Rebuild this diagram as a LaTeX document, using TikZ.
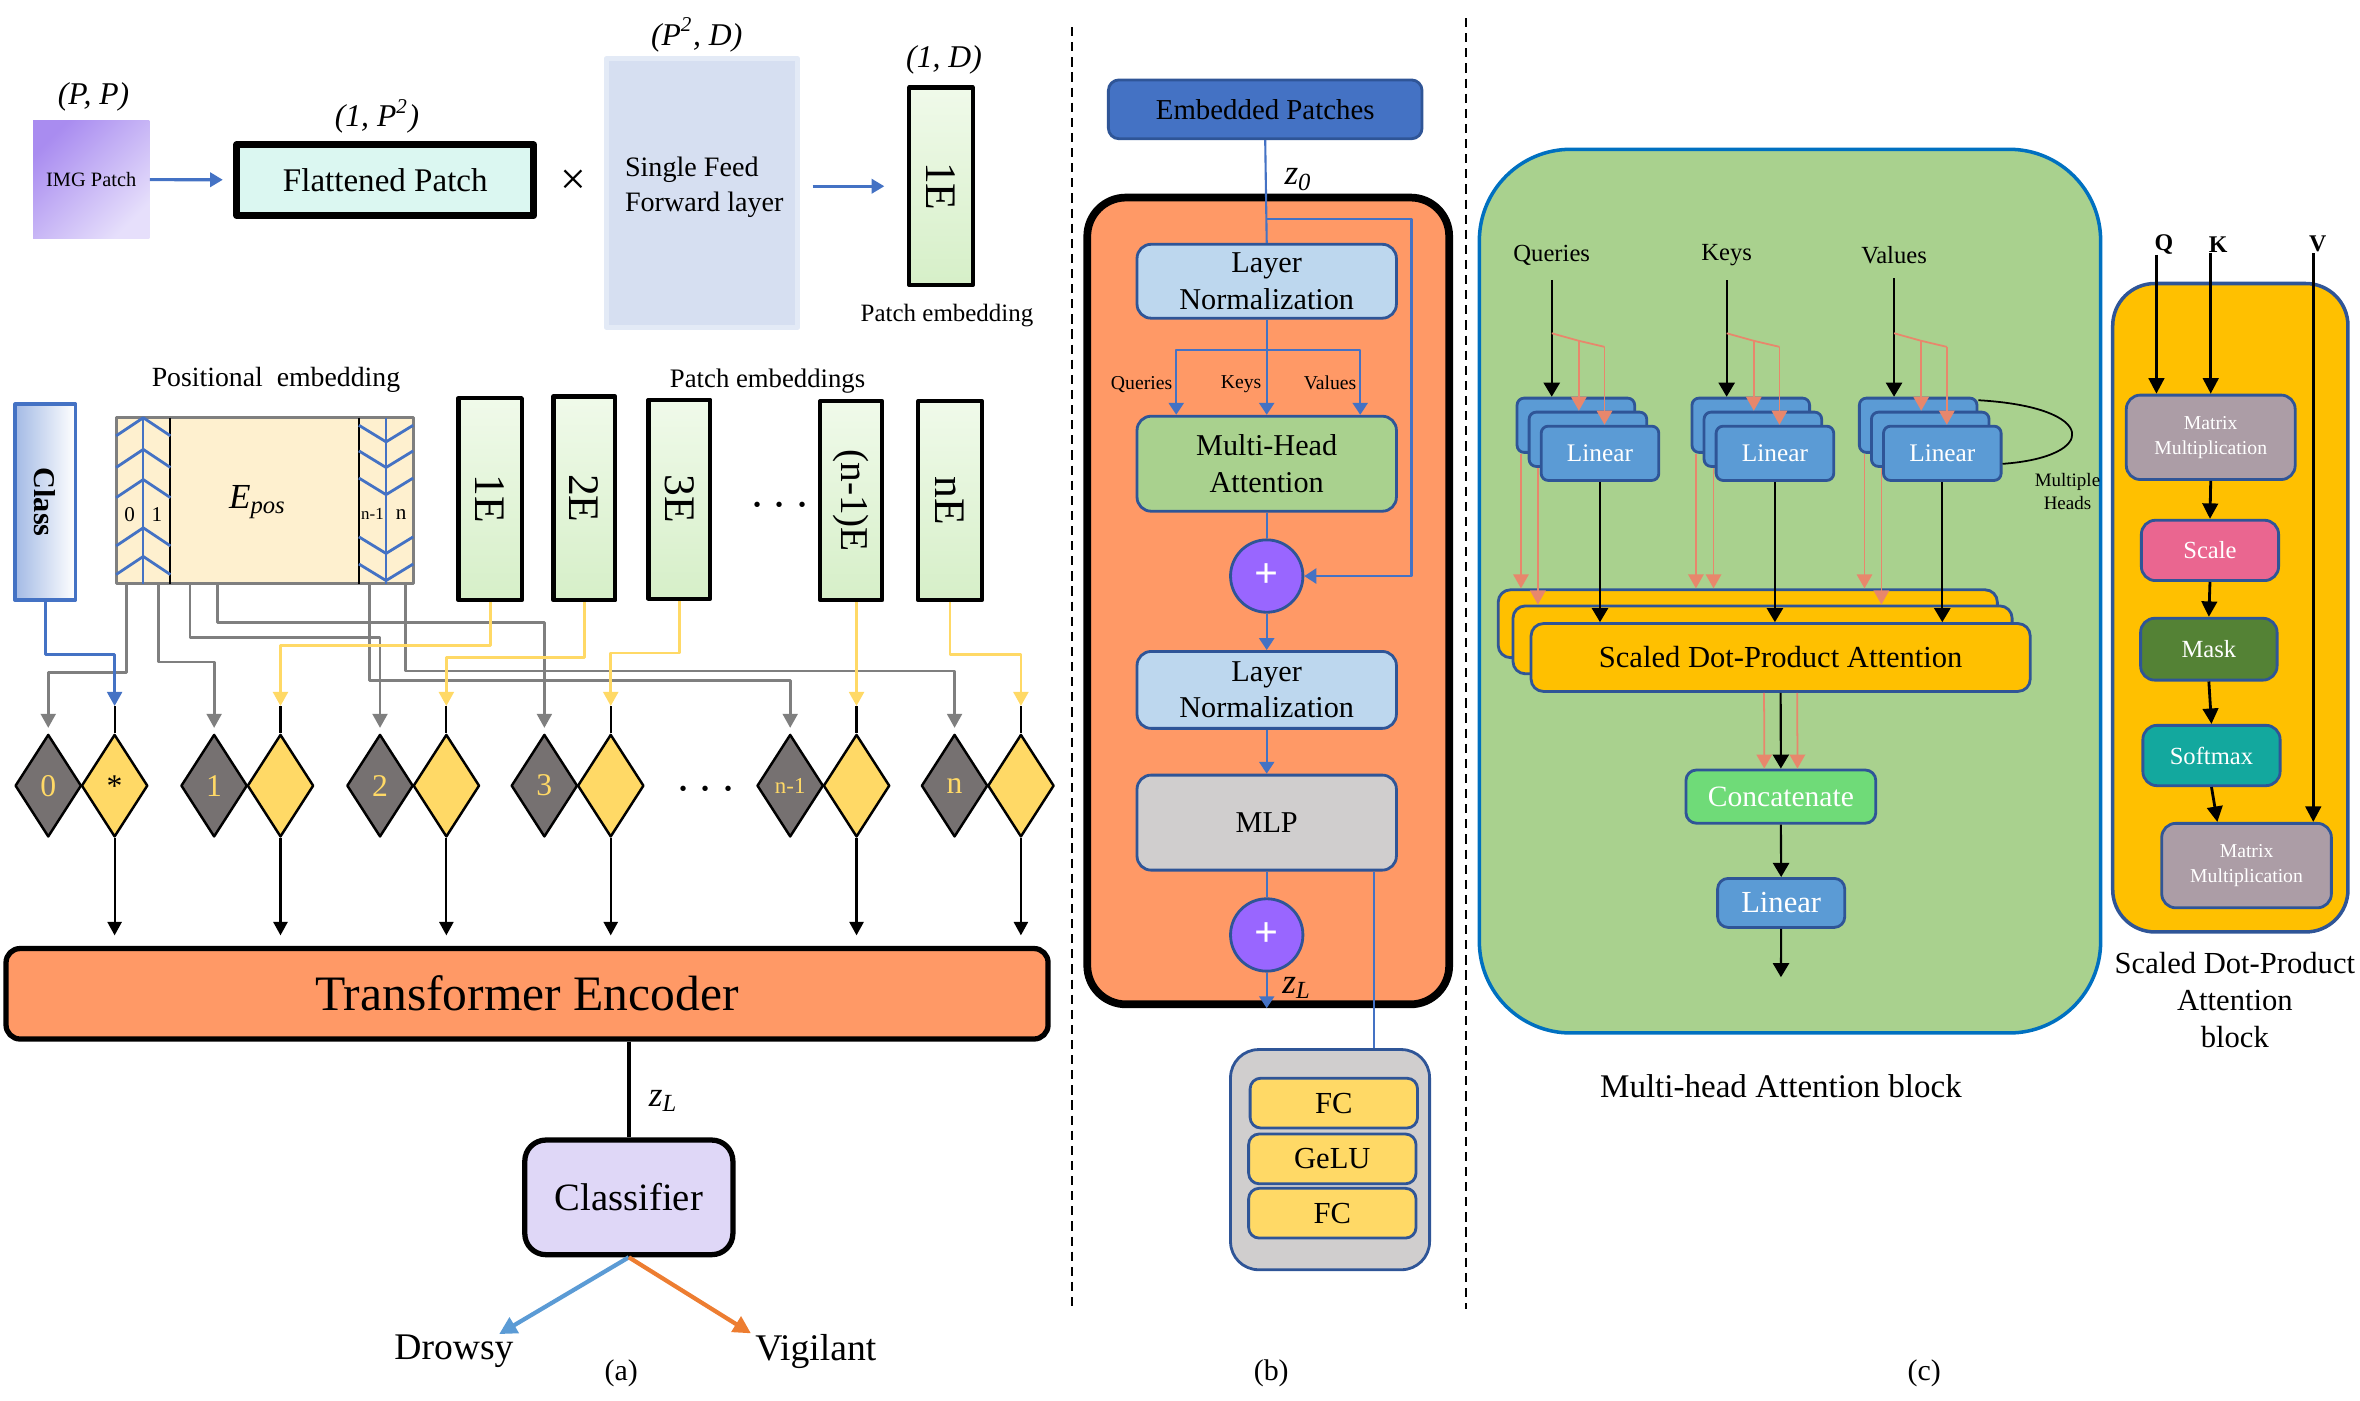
\documentclass[tikz,border=0pt]{standalone}
\usepackage{fontspec}
\setmainfont{Liberation Serif}
\usetikzlibrary{arrows.meta,shapes.geometric,calc,positioning}

\newcommand\upx{0.01508cm}
\newcommand\fsz[2]{\fontsize{#1pt}{#2pt}\selectfont}

\definecolor{pblue}{HTML}{4472C4}
\definecolor{dblue}{HTML}{2F5597}
\definecolor{cblue}{HTML}{0070C0}
\definecolor{lblue}{HTML}{5B9BD5}
\definecolor{tred}{HTML}{FF9966}
\definecolor{ylw}{HTML}{FFD966}
\definecolor{dgray}{HTML}{767171}
\definecolor{wgray}{HTML}{7F7F7F}
\definecolor{flatc}{HTML}{DBF7F1}
\definecolor{feedc}{HTML}{D6DFF1}
\definecolor{feedb}{HTML}{E3EAF6}
\definecolor{eposc}{HTML}{FEF0CF}
\definecolor{egA}{HTML}{F0FAEA}
\definecolor{egB}{HTML}{D6EFC8}
\definecolor{lav}{HTML}{DFD7F7}
\definecolor{imgA}{HTML}{A98CF0}
\definecolor{imgB}{HTML}{E6DFFB}
\definecolor{clsA}{HTML}{A3BAE5}
\definecolor{lnc}{HTML}{BDD7EE}
\definecolor{mhac}{HTML}{A9D18E}
\definecolor{mlpc}{HTML}{D0CECE}
\definecolor{plusc}{HTML}{9966FF}
\definecolor{sdpac}{HTML}{FFC000}
\definecolor{catc}{HTML}{6FDB78}
\definecolor{salm}{HTML}{E8876C}
\definecolor{mmc}{HTML}{AC9DA6}
\definecolor{scalec}{HTML}{EA6690}
\definecolor{maskc}{HTML}{548235}
\definecolor{softc}{HTML}{13A89E}
\definecolor{drowc}{HTML}{5B9BD5}
\definecolor{vigc}{HTML}{ED7D31}

\tikzset{
  every node/.style={inner sep=0pt},
  area/.style args={#1/#2/#3/#4}{at={({(#1+#3)/2},{(#2+#4)/2})}, minimum width=(#3-#1)*\upx, minimum height=(#4-#2)*\upx},
  tipA/.style={-{Triangle[width=4.2pt,length=4pt]}},
  gwire/.style={wgray, line width=0.8pt, tipA, shorten >=1.5pt},
  ywire/.style={ylw, line width=0.8pt, tipA},
  downarr/.style={line width=0.6pt, -{Triangle[width=4pt,length=3.8pt]}, shorten >=3pt},
  gdia/.style={diamond, draw, line width=0.7pt, fill=dgray, text=ylw, minimum width=44*\upx, minimum height=68*\upx, font=\fsz{9}{10}},
  ydia/.style={gdia, fill=ylw, text=black},
  ebox/.style={draw, line width=1.2pt, top color=egA, bottom color=egB},
  bbox/.style={draw=dblue, line width=0.8pt, rounded corners=4pt, align=center, font=\fsz{8.6}{10.3}},
  barr/.style={pblue, line width=0.6pt, -{Triangle[width=4.3pt,length=3.4pt]}},
  fcbox/.style={draw=dblue, line width=0.8pt, fill=ylw, rounded corners=3pt, font=\fsz{8.7}{10}},
  linbox/.style={draw=dblue, line width=0.8pt, fill=lblue, rounded corners=2pt, minimum width=78*\upx, minimum height=36*\upx, text=white, font=\fsz{7.2}{8}},
  sdpabox/.style={draw=dblue, line width=0.8pt, fill=sdpac, rounded corners=3.5pt, minimum width=331*\upx, minimum height=45*\upx, font=\fsz{8.7}{10}},
  blk/.style={line width=0.6pt, -{Triangle[width=4.6pt,length=4pt]}},
  salmarr/.style={salm, line width=0.5pt, -{Triangle[width=4.4pt,length=4pt]}},
  opbox/.style={draw=dblue, line width=0.8pt, rounded corners=4pt, text=white, align=center, font=\fsz{7}{8}},
  oparr/.style={line width=0.8pt, -{Triangle[width=4.4pt,length=4.4pt]}},
}

\begin{document}
\begin{tikzpicture}[x=\upx,y=-\upx,line join=round]
\useasboundingbox (0,0) rectangle (1565,928.4);

% (a) patch embedding
\node[font=\itshape\fsz{9}{10}] at (62,64) {(P, P)};
\node[area=22/80/99/158, top color=imgA, bottom color=imgB, shading angle=45, font=\fsz{5.8}{6}] (img) {IMG Patch};
\node[font=\itshape\fsz{9}{10}] at (250,77) {(1, P\textsuperscript{2})};
\node[area=157/96/354/143, draw, line width=1.9pt, fill=flatc, font=\fsz{9.4}{11}] (flat) {Flattened Patch};
\node[font=\fsz{13}{13}] (times) at (380,121) {×};
\node[area=402/39/529/217, draw=feedb, line width=1.4pt, fill=feedc] (ffl) {};
\node[anchor=west, align=left, font=\fsz{8}{9.9}] at (414,124) {Single Feed\\Forward layer};
\node[font=\itshape\fsz{9}{10}] at (462,23) {(P\textsuperscript{2}, D)};
\node[font=\itshape\fsz{9}{10}] at (626,40) {(1, D)};
\node[ebox, area=603/58/645/189] (pe) {};
\node[rotate=-90, font=\fsz{12.4}{13}] at (pe) {1E};
\node[font=\fsz{7.1}{8}] at (628,209) {Patch embedding};
\draw[pblue, line width=0.9pt, -{Triangle[width=4pt,length=3.6pt]}, shorten >=3pt] (img) -- (flat);
\draw[pblue, line width=0.9pt, -{Triangle[width=4pt,length=3.6pt]}, shorten <=3.5pt, shorten >=6.5pt] (ffl.east |- pe) -- (pe.west);

% (a) embeddings
\node[font=\fsz{7.9}{9}] at (183,252) {Positional\ \ embedding};
\node[font=\fsz{7.6}{9}] at (509,253) {Patch embeddings};
\node[area=10/268/50/398, draw=pblue, line width=1pt, left color=clsA, right color=white] (cls) {};
\node[rotate=-90, font=\bfseries\fsz{8.6}{9}] at (cls) {Class};
\node[area=77/277/274/387, draw=wgray, line width=0.8pt, fill=eposc] (epos) {};
\draw[line width=0.6pt] (113,277) -- (113,387) (238,277) -- (238,387);
\draw[pblue, line width=0.5pt] (95,277) -- (95,387) (256,277) -- (256,387);
\foreach \y in {277,298,318,350,369}
  \draw[pblue, line width=0.8pt] (77,\y+12) -- (95,\y) -- (113,\y+12);
\foreach \y in {293,310,328,367,385}
  \draw[pblue, line width=0.8pt] (238,\y-11) -- (256,\y) -- (274,\y-11);
\node[font=\fsz{6}{6}] at (86,341) {0};
\node[font=\fsz{6}{6}] at (104,341) {1};
\node[font=\fsz{4.8}{5}] at (247,341) {n-1};
\node[font=\fsz{6}{6}] at (266,341) {n};
\node[font=\fsz{10}{12}] at (171,333) {\textit{E}\textsubscript{\textit{pos}}};
\foreach \nm/\xa/\ya/\xb/\yb/\txt in {e1/304/264/346/398/1E, e2/367/263/408/398/2E, e3/430/265/471/397/3E, en/609/266/651/398/nE} {
  \node[ebox, area=\xa/\ya/\xb/\yb] (\nm) {};
  \node[rotate=-90, font=\fsz{12.4}{13}] at (\nm) {\txt};
}
\node[ebox, area=544/266/585/398] (en1) {};
\node[rotate=-90, font=\fsz{11.2}{12}] at (en1) {(n-1)E};
\node[font=\fsz{15}{15}] at (517,336) {$\cdots$};

% (a) diamonds
\foreach \nm/\xx/\lab/\ylab in {0/32/0/*, 1/142/1/{}, 2/252/2/{}, 3/361/3/{}, n1/524/{\fsz{6.5}{7}n-1}/{}, n/633/n/{}} {
  \node[gdia] (g\nm) at (\xx,521) {\lab};
  \node[ydia] (y\nm) at (\xx+44,521) {\ylab};
}
\node[font=\fsz{15}{15}] at (468,524) {$\cdots$};
\foreach \nm/\xx/\yy in {0/84/446, 1/105/439, 2/126/423, 3/144/413, n1/245/451, n/269/445}
  \draw[gwire] (\xx,0 |- epos.south) -- (\xx,\yy) -| (g\nm.north);
\foreach \src/\dst/\yy in {e1/1/428, e2/2/436, e3/3/433, en/n/434}
  \draw[ywire] (\src.south) -- (\src.south |- 0,\yy) -| ($(y\dst.north)+(0,-18)$);
\draw[ywire] (yn1 |- en1.south) -- ($(yn1.north)+(0,-18)$);
\draw[pblue, line width=0.8pt, tipA] (cls.south) -- (cls.south |- 0,434) -| ($(y0.north)+(0,-18)$);
\node[area=4/629/695/689, draw, line width=1.5pt, rounded corners=4pt, fill=tred, font=\fsz{14.1}{16}] (te) {Transformer Encoder};
\foreach \nm in {0,1,2,3,n1,n} {
  \draw[line width=0.6pt] ($(y\nm.north)+(0,-18)$) -- (y\nm.north);
  \draw[downarr] (y\nm.south) -- (y\nm.south |- te.north);
}

% (a) classifier
\node[area=348/756/486/832, draw, line width=1.5pt, rounded corners=6pt, fill=lav, font=\fsz{11}{12}] (clf) {Classifier};
\draw[line width=1pt] (clf.north |- te.south) -- (clf.north);
\node[font=\fsz{10}{11}] at (440,730) {\textit{z}\textsubscript{\textit{L}}};
\node[font=\fsz{10.7}{12}] (drowsy) at (301,896) {Drowsy};
\node[font=\fsz{10.7}{12}] (vigil) at (541,896) {Vigilant};
\draw[drowc, line width=1.2pt, -{Triangle[width=5pt,length=5pt]}] (clf.south) -- ($(drowsy.north)+(30,0)$);
\draw[vigc, line width=1.2pt, -{Triangle[width=5pt,length=5pt]}] (clf.south) -- ($(vigil.north)+(-43,0)$);
\node[font=\fsz{8.5}{9}] at (412,911) {(a)};

\draw[dashed, dash pattern=on 2.6pt off 1.7pt, line width=0.6pt] (711,18) -- (711,866);
\draw[dashed, dash pattern=on 2.6pt off 1.7pt, line width=0.6pt] (972,12) -- (972,868);

% (b) encoder block
\node[area=721/131/961/666, draw, line width=2.2pt, rounded corners=11pt, fill=tred] (tblk) {};
\node[area=735/53/943/92, draw=dblue, line width=0.8pt, rounded corners=3pt, fill=pblue, font=\fsz{8.2}{10}] (emb) {Embedded Patches};
\node[bbox, fill=lnc, area=754/162/926/211] (ln1) {Layer\\Normalization};
\node[bbox, fill=mhac, area=754/276/926/339] (mha) {Multi-Head\\Attention};
\node[circle, draw=dblue, line width=0.8pt, fill=plusc, minimum size=48*\upx, text=white, font=\bfseries\fsz{12}{12}] (add1) at (840,382) {+};
\node[bbox, fill=lnc, area=754/432/926/483] (ln2) {Layer\\Normalization};
\node[bbox, fill=mlpc, area=754/514/926/577] (mlp) {MLP};
\node[circle, draw=dblue, line width=0.8pt, fill=plusc, minimum size=48*\upx, text=white, font=\bfseries\fsz{12}{12}] (add2) at (840,620) {+};
\node[area=816/696/948/842, draw=dblue, line width=0.8pt, rounded corners=8pt, fill=mlpc] (fcc) {};
\node[fcbox, area=829/715/940/748] (fc1) {FC};
\node[fcbox, area=828/752/939/785] (gelu) {GeLU};
\node[fcbox, area=828/788/939/821] (fc2) {FC};
\draw[pblue, line width=0.6pt] (emb.south) -- (ln1.north);
\node[font=\fsz{10}{11}] at (861,119) {\textit{z}\textsubscript{\textit{0}}};
\draw[barr] (ln1.north |- 0,145) -- (936,145) |- (add1.east);
\draw[barr] (ln1.south) -- (mha.north);
\draw[barr] (ln1.south |- 0,232) -| ($(mha.north)+(-60,0)$);
\draw[barr] (ln1.south |- 0,232) -| ($(mha.north)+(62,0)$);
\node[font=\fsz{5.6}{6}] at (757,255) {Queries};
\node[font=\fsz{5.6}{6}] at (823,255) {Keys};
\node[font=\fsz{5.6}{6}] at (882,254) {Values};
\draw[pblue, line width=0.6pt] (mha.south) -- (add1.north);
\draw[barr] (add1.south) -- (ln2.north);
\draw[barr] (ln2.south) -- (mlp.north);
\draw[pblue, line width=0.6pt] (mlp.south) -- (add2.north);
\draw[barr] (add2.south) -- (add2.south |- tblk.south);
\node[font=\fsz{10}{11}] at (860,655) {\textit{z}\textsubscript{\textit{L}}};
\draw[pblue, line width=0.5pt] (911,0 |- mlp.south) -- (911,0 |- fcc.north);
\node[font=\fsz{8.5}{9}] at (843,911) {(b)};

% (c) multi-head attention
\node[area=981/99/1393/685, draw=cblue, line width=1pt, rounded corners=26pt, fill=mhac] (mhblk) {};
\node[font=\fsz{7}{8}] (lq) at (1029,169) {Queries};
\node[font=\fsz{7}{8}] (lk) at (1145,169) {Keys};
\node[font=\fsz{7}{8}] (lv) at (1256,169) {Values};
\foreach \nm/\bx in {q/1006, k/1122, v/1233} {
  \node[linbox] (\nm0) at (\bx+39,282) {};
  \node[linbox] (\nm1) at (\bx+47,291.3) {};
  \node[linbox] (\nm2) at (\bx+55,300.6) {Linear};
}
\node[sdpabox] (s0) at (1159,413.6) {};
\node[sdpabox] (s1) at (1168.8,424.3) {};
\node[sdpabox] (s2) at (1180.8,436) {Scaled Dot-Product Attention};
\foreach \nm/\ax in {q/1029, k/1145, v/1256} {
  \draw[blk, shorten <=4pt] (l\nm.south) -- (l\nm.south |- \nm0.north);
  \draw[salm, line width=0.5pt] (\ax,221) -- (\ax+18,226) -- (\ax+35,230);
  \draw[salmarr] (\ax+18,226) -- (\ax+18,0 |- \nm1.north);
  \draw[salmarr] (\ax+35,230) -- (\ax+35,0 |- \nm2.north);
  \draw[blk] (\nm2.south) -- (\nm2.south |- s2.north);
}
\draw[salmarr] (1008.6,0 |- q0.south) -- (1008.6,0 |- s0.north);
\draw[salmarr] (1019.8,0 |- q1.south) -- (1019.8,0 |- s1.north);
\draw[salmarr] (1124.6,0 |- k0.south) -- (1124.6,0 |- s0.north);
\draw[salmarr] (1136.3,0 |- k1.south) -- (1136.3,0 |- s0.north);
\draw[salmarr] (1236.4,0 |- v0.south) -- (1236.4,0 |- s0.north);
\draw[salmarr] (1247.6,0 |- v1.south) -- (1247.6,0 |- s1.north);
\draw[line width=0.5pt] ([yshift=-1pt]v0.north east) .. controls (1392,270) and (1392,303) .. ([yshift=-3pt]v2.east);
\node[align=center, font=\fsz{5.4}{6.6}] at (1371,326) {Multiple\\Heads};
\node[area=1118/510.6/1243.9/545.9, draw=dblue, line width=0.8pt, rounded corners=3pt, fill=catc, text=white, font=\fsz{8.4}{9}] (cat) {Concatenate};
\node[area=1139/582.5/1223.3/615, draw=dblue, line width=0.8pt, rounded corners=3pt, fill=lblue, text=white, font=\fsz{8.7}{9}] (lin) {Linear};
\coordinate (mhout) at (1181,648);
\draw[blk] (s2.south) -- (cat.north);
\draw[salmarr] ($(s2.south)+(-11,0)$) -- ($(cat.north)+(-11,0)$);
\draw[salmarr] ($(s2.south)+(11,0)$) -- ($(cat.north)+(11,0)$);
\draw[blk] (cat.south) -- (lin.north);
\draw[blk] (lin.south) -- (mhout);
\node[font=\fsz{9.4}{10}] at (1181,720) {Multi-head Attention block};
\node[font=\fsz{8.5}{9}] at (1276,911) {(c)};

% (c) scaled dot-product attention
\node[area=1401/188/1557/618, draw=dblue, line width=1pt, rounded corners=12pt, fill=sdpac] (sdblk) {};
\node[opbox, fill=mmc, area=1410/262/1522/318, font=\fsz{5.6}{7}] (mm1) {Matrix\\Multiplication};
\node[opbox, fill=scalec, area=1420/345/1511/385] (scl) {Scale};
\node[opbox, fill=maskc, area=1419.5/410/1510/451] (msk) {Mask};
\node[opbox, fill=softc, area=1421/481/1512/521] (smx) {Softmax};
\node[opbox, fill=mmc, area=1433.5/546/1546/602, font=\fsz{5.6}{7}] (mm2) {Matrix\\Multiplication};
\node[font=\bfseries\fsz{6.8}{7}] (lQ) at (1435,162) {Q};
\node[font=\bfseries\fsz{6.8}{7}] (lK) at (1471,162) {K};
\node[font=\bfseries\fsz{6.8}{7}] (lV) at (1537,162) {V};
\draw[oparr] (1430,0 |- lQ.south) -- (1430,0 |- mm1.north);
\draw[oparr] (1466,0 |- lK.south) -- (1466,0 |- mm1.north);
\draw[oparr] (1534,0 |- lV.south) -- (1534,0 |- mm2.north);
\draw[oparr] (mm1.south) -- (scl.north);
\draw[oparr] (scl.south) -- (msk.north);
\draw[oparr] (msk.south) -- (smx.north);
\draw[oparr] (smx.south) -- (1470.4,0 |- mm2.north);
\node[align=center, font=\fsz{8.7}{10.5}] at (1482,663) {Scaled Dot-Product\\Attention\\block};
\end{tikzpicture}
\end{document}
